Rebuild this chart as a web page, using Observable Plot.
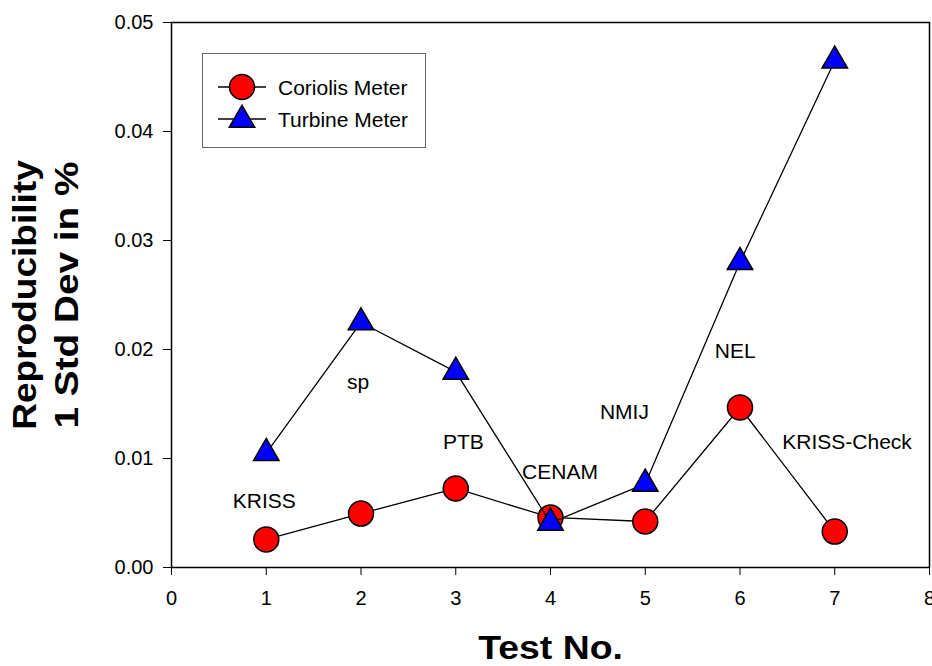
<!DOCTYPE html>
<html><head><meta charset="utf-8">
<script src="https://cdn.jsdelivr.net/npm/d3@7"></script>
<script src="https://cdn.jsdelivr.net/npm/@observablehq/plot@0.6"></script>
<style>
html,body{margin:0;padding:0;background:#fff;overflow:hidden;}
#wrap{position:relative;width:932px;height:666px;}
#legend{position:absolute;left:202px;top:53px;width:222px;height:93px;border:1.5px solid #666;background:#fff;}
</style></head><body><div id="wrap"></div>
<script>
const tests = [1, 2, 3, 4, 5, 6, 7];
const coriolis = [0.00257, 0.00495, 0.00725, 0.00459, 0.00422, 0.01468, 0.0033];
const turbine = [0.01049, 0.02248, 0.01795, 0.0041, 0.00768, 0.02801, 0.04649];
const labelText = ["KRISS", "sp", "PTB", "CENAM", "NMIJ", "NEL", "KRISS-Check"];
const labelX = [0.98, 1.97, 3.08, 4.10, 4.78, 5.95, 7.13];
const labelY = [0.00606, 0.01702, 0.01151, 0.00872, 0.01427, 0.01986, 0.01151];
const xTicks = [0, 1, 2, 3, 4, 5, 6, 7, 8];
const yTicks = [0, 0.01, 0.02, 0.03, 0.04, 0.05];
const seriesNames = ["Coriolis Meter", "Turbine Meter"];
const xTitle = "Test No.";
const yTitle1 = "Reproducibility";
const yTitle2 = "1 Std Dev in %";

const FONT = "'Liberation Sans', Arial, Helvetica, sans-serif";
const cor = tests.map((t, i) => ({test: t, value: coriolis[i]}));
const tur = tests.map((t, i) => ({test: t, value: turbine[i]}));
const labels = labelText.map((s, i) => ({text: s, x: labelX[i], y: labelY[i]}));

const titleOpts = {text: d => d, fontSize: 34, fontWeight: "bold", fill: "black", textAnchor: "middle", lineAnchor: "middle"};

const svg = Plot.plot({
  width: 932,
  height: 666,
  marginLeft: 171,
  marginRight: 3,
  marginTop: 22,
  marginBottom: 99,
  style: {fontFamily: FONT, fontSize: "20px", color: "black", background: "white", overflow: "visible"},
  x: {domain: [0, 8], ticks: xTicks, tickSize: 8, tickPadding: 15, label: null, tickFormat: d3.format("d")},
  y: {domain: [0, 0.05], ticks: yTicks, tickSize: 8, tickPadding: 10, label: null, tickFormat: d3.format(".2f")},
  marks: [
    Plot.frame({stroke: "black", strokeWidth: 1.5}),
    Plot.text(labels, {x: "x", y: "y", text: "text", fontSize: 21, fill: "black"}),
    Plot.line(cor, {x: "test", y: "value", stroke: "black", strokeWidth: 1.3}),
    Plot.dot(cor, {x: "test", y: "value", r: 12.5, fill: "#ff0000", stroke: "black", strokeWidth: 1.5}),
    Plot.line(tur, {x: "test", y: "value", stroke: "black", strokeWidth: 1.3}),
    Plot.dot(tur, {x: "test", y: "value", symbol: "triangle", r: 9.45, fill: "#0000ff", stroke: "black", strokeWidth: 1.5}),
    Plot.text([xTitle], {...titleOpts, frameAnchor: "bottom", dy: 81}),
    Plot.text([yTitle1], {...titleOpts, frameAnchor: "left", rotate: -90, dx: -146}),
    Plot.text([yTitle2], {...titleOpts, frameAnchor: "left", rotate: -90, dx: -104})
  ]
});

// horizontal stretch of the axis titles along their reading direction
function stretch(content, s) {
  d3.select(svg).selectAll("text").each(function() {
    if (this.textContent !== content) return;
    const t = this.getAttribute("transform") || "";
    this.setAttribute("transform", `${t} scale(${s},1)`);
  });
}
stretch(xTitle, 1.1);
stretch(yTitle1, 1.09);
stretch(yTitle2, 1.14);

const wrap = document.getElementById("wrap");
wrap.appendChild(svg);

// legend
const leg = d3.select(wrap).append("div").attr("id", "legend");
const ls = leg.append("svg").attr("width", 222).attr("height", 93).style("display", "block");
const rows = [
  {name: seriesNames[0], y: 33, kind: "circle"},
  {name: seriesNames[1], y: 65, kind: "triangle"}
];
rows.forEach(r => {
  ls.append("line").attr("x1", 15).attr("x2", 63).attr("y1", r.y).attr("y2", r.y).attr("stroke", "black").attr("stroke-width", 1.3);
  if (r.kind === "circle") {
    ls.append("circle").attr("cx", 39).attr("cy", r.y).attr("r", 12.5).attr("fill", "#ff0000").attr("stroke", "black").attr("stroke-width", 1.5);
  } else {
    ls.append("path").attr("d", d3.symbol(d3.symbolTriangle, Math.PI * 9.45 * 9.45)()).attr("transform", `translate(39,${r.y + 1})`).attr("fill", "#0000ff").attr("stroke", "black").attr("stroke-width", 1.5);
  }
  ls.append("text").attr("x", 75).attr("y", r.y).attr("dy", "0.36em").attr("font-family", FONT).attr("font-size", 21).attr("fill", "black").text(r.name);
});
</script>
</body></html>
